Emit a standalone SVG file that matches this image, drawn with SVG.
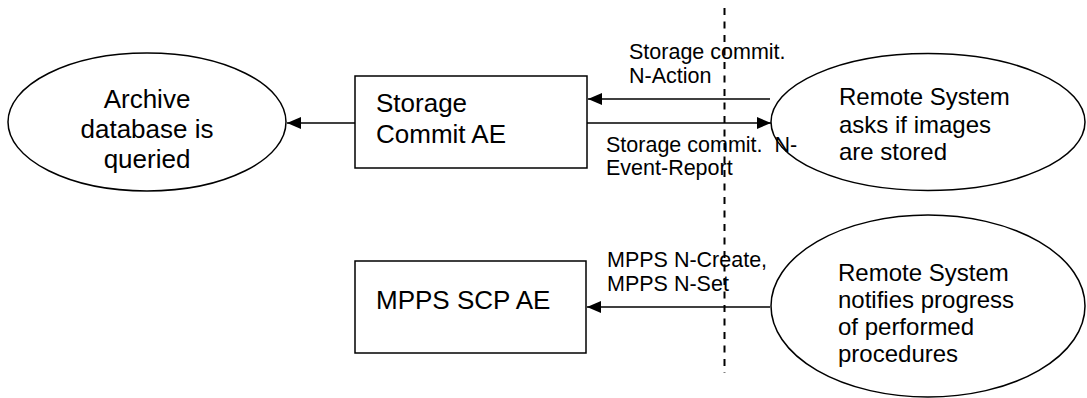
<svg xmlns="http://www.w3.org/2000/svg" width="1087" height="398" viewBox="0 0 1087 398">
<style>
.shape{fill:#fff;stroke:#000;stroke-width:1.5}
.big{font-family:"Liberation Sans",Arial,sans-serif;font-size:26px;fill:#000}
.mid{font-family:"Liberation Sans",Arial,sans-serif;font-size:24px;fill:#000}
.lbl{font-family:"Liberation Sans",Arial,sans-serif;font-size:21.5px;fill:#000}
.conn{stroke:#000;stroke-width:1.5;fill:none;marker-end:url(#ah)}
</style>
<defs>
<marker id="ah" markerWidth="14" markerHeight="12" refX="14" refY="6" orient="auto" markerUnits="userSpaceOnUse">
<path d="M0,0 L14,6 L0,12 Z" fill="#000"/>
</marker>
</defs>
<rect width="1087" height="398" fill="#fff"/>
<g id="archive">
<ellipse class="shape" cx="147" cy="122" rx="139" ry="69"/>
<text class="big" text-anchor="middle"><tspan x="147" y="108">Archive</tspan><tspan x="147" y="138">database is</tspan><tspan x="147" y="168">queried</tspan></text>
</g>
<g id="storage-commit">
<rect class="shape" x="355" y="76" width="232" height="92"/>
<text class="big"><tspan x="376" y="112">Storage</tspan><tspan x="376" y="143">Commit AE</tspan></text>
</g>
<g id="mpps">
<rect class="shape" x="355" y="261" width="231" height="92"/>
<text class="big" x="376" y="309">MPPS SCP AE</text>
</g>
<g id="remote1">
<ellipse class="shape" cx="928" cy="122" rx="157" ry="68.5"/>
<text class="mid"><tspan x="839" y="105">Remote System</tspan><tspan x="839" y="133">asks if images</tspan><tspan x="839" y="160">are stored</tspan></text>
</g>
<g id="remote2">
<ellipse class="shape" cx="928" cy="306" rx="157" ry="91"/>
<text class="mid"><tspan x="838" y="281">Remote System</tspan><tspan x="838" y="308">notifies progress</tspan><tspan x="838" y="335">of performed</tspan><tspan x="838" y="362">procedures</tspan></text>
</g>
<g id="connectors">
<line class="conn" x1="355" y1="123" x2="287" y2="123"/>
<line class="conn" x1="770" y1="99" x2="588" y2="99"/>
<line class="conn" x1="587" y1="123" x2="771" y2="123"/>
<line class="conn" x1="770" y1="307" x2="587" y2="307"/>
<line x1="724.5" y1="8" x2="724.5" y2="373" stroke="#000" stroke-width="2" stroke-dasharray="7,6.5"/>
</g>
<g id="labels">
<text class="lbl"><tspan x="629" y="59">Storage commit.</tspan><tspan x="629" y="83">N-Action</tspan></text>
<text class="lbl" xml:space="preserve"><tspan x="606" y="152">Storage commit.  N-</tspan><tspan x="606" y="175">Event-Report</tspan></text>
<text class="lbl"><tspan x="607" y="267">MPPS N-Create,</tspan><tspan x="607" y="291">MPPS N-Set</tspan></text>
</g>
</svg>
